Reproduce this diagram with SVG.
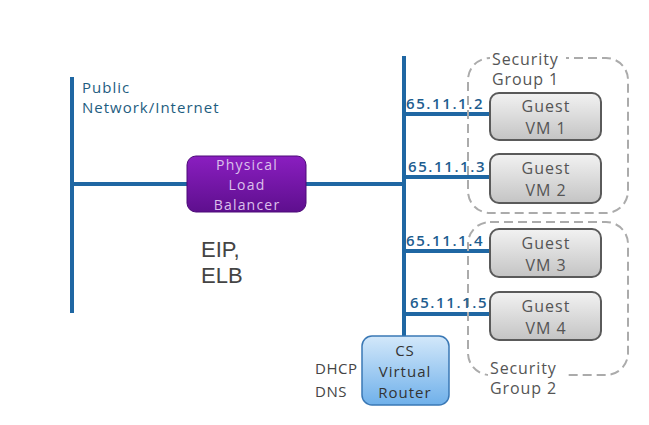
<svg xmlns="http://www.w3.org/2000/svg" width="649" height="425" viewBox="0 0 649 425">
<defs>
<linearGradient id="gPurple" x1="0" y1="0" x2="0" y2="1">
<stop offset="0" stop-color="#8a1ec0"/><stop offset="1" stop-color="#5e0f8e"/>
</linearGradient>
<linearGradient id="gGrey" x1="0" y1="0" x2="0" y2="1">
<stop offset="0" stop-color="#f2f2f2"/><stop offset="1" stop-color="#c4c4c4"/>
</linearGradient>
<linearGradient id="gBlue" x1="0" y1="0" x2="0" y2="1">
<stop offset="0" stop-color="#d3e8fa"/><stop offset="1" stop-color="#6fb0ea"/>
</linearGradient>
</defs>
<style>
.net{stroke:#1f67a3;stroke-width:4;fill:none;stroke-linecap:butt}
.grp{fill:none;stroke:#ababab;stroke-width:2;stroke-dasharray:9 5}
.vm{fill:url(#gGrey);stroke:#5a5a5a;stroke-width:2}
.t{font-family:"Open Sans","Liberation Sans",sans-serif}
.vmt{font-size:16px;fill:#555;text-anchor:middle;letter-spacing:1px}
.ip{font-size:15px;fill:#1e5d8f;font-weight:600;letter-spacing:1.6px}
.sg{font-size:16px;fill:#555;letter-spacing:0.9px}
.mid{text-anchor:middle}
</style>
<rect width="649" height="425" fill="#fff"/>
<g id="connectors">
<line class="net" x1="72" y1="77" x2="72" y2="313"/>
<line class="net" x1="72" y1="184" x2="404" y2="184"/>
<line class="net" x1="404" y1="56" x2="404" y2="337"/>
<line class="net" x1="404" y1="114" x2="490" y2="114"/>
<line class="net" x1="404" y1="177" x2="490" y2="177"/>
<line class="net" x1="404" y1="251" x2="490" y2="251"/>
<line class="net" x1="404" y1="314" x2="490" y2="314"/>
</g>
<g id="sg1">
<rect class="grp" x="468" y="58" width="160" height="155" rx="22"/>
<rect x="490" y="50" width="76" height="16" fill="#fff"/>
<text class="t sg" x="492" y="65">Security</text>
<text class="t sg" x="492" y="85">Group 1</text>
</g>
<g id="sg2">
<rect class="grp" x="468" y="222" width="160" height="153" rx="22"/>
<rect x="488" y="360" width="78" height="20" fill="#fff"/>
<text class="t sg" x="490" y="374">Security</text>
<text class="t sg" x="490" y="394">Group 2</text>
</g>
<g id="public">
<text class="t" x="82" y="93" font-size="15" fill="#1e5d7f" letter-spacing="1">Public</text>
<text class="t" x="82" y="113" font-size="15" fill="#1e5d7f" letter-spacing="1">Network/Internet</text>
</g>
<g id="plb">
<rect x="187" y="156" width="119" height="56" rx="9" fill="url(#gPurple)" stroke="#4d0a78" stroke-width="1"/>
<text class="t mid" x="247" y="170" font-size="14" fill="#dcc0ec" letter-spacing="1.2">Physical</text>
<text class="t mid" x="247" y="190" font-size="14" fill="#dcc0ec" letter-spacing="1.2">Load</text>
<text class="t mid" x="247" y="210" font-size="14" fill="#dcc0ec" letter-spacing="1.2">Balancer</text>
</g>
<g id="eip">
<text x="201" y="257" font-family="Liberation Sans, Arial, sans-serif" font-size="22" fill="#444">EIP,</text>
<text x="201" y="283" font-family="Liberation Sans, Arial, sans-serif" font-size="22" fill="#444">ELB</text>
</g>
<g id="ips">
<text class="t ip" x="406" y="109">65.11.1.2</text>
<text class="t ip" x="408" y="172">65.11.1.3</text>
<text class="t ip" x="406" y="246">65.11.1.4</text>
<text class="t ip" x="410" y="308">65.11.1.5</text>
</g>
<g id="vm1">
<rect class="vm" x="490" y="93" width="111" height="47" rx="9"/>
<text class="t vmt" x="546" y="112">Guest</text>
<text class="t vmt" x="546" y="134">VM 1</text>
</g>
<g id="vm2">
<rect class="vm" x="490" y="154" width="111" height="49" rx="9"/>
<text class="t vmt" x="546" y="174">Guest</text>
<text class="t vmt" x="546" y="196">VM 2</text>
</g>
<g id="vm3">
<rect class="vm" x="490" y="229" width="111" height="48" rx="9"/>
<text class="t vmt" x="546" y="249">Guest</text>
<text class="t vmt" x="546" y="271">VM 3</text>
</g>
<g id="vm4">
<rect class="vm" x="490" y="292" width="111" height="48" rx="9"/>
<text class="t vmt" x="546" y="312">Guest</text>
<text class="t vmt" x="546" y="334">VM 4</text>
</g>
<g id="router">
<rect x="362" y="336" width="87" height="69" rx="10" fill="url(#gBlue)" stroke="#3a78b5" stroke-width="1.5"/>
<text class="t mid" x="405" y="356" font-size="15" fill="#333" letter-spacing="1">CS</text>
<text class="t mid" x="405" y="377" font-size="15" fill="#333" letter-spacing="1">Virtual</text>
<text class="t mid" x="405" y="398" font-size="15" fill="#333" letter-spacing="1">Router</text>
</g>
<g id="dhcp">
<text class="t" x="315" y="374" font-size="15" fill="#444" letter-spacing="0.5">DHCP</text>
<text class="t" x="315" y="397" font-size="15" fill="#444" letter-spacing="0.5">DNS</text>
</g>
</svg>
